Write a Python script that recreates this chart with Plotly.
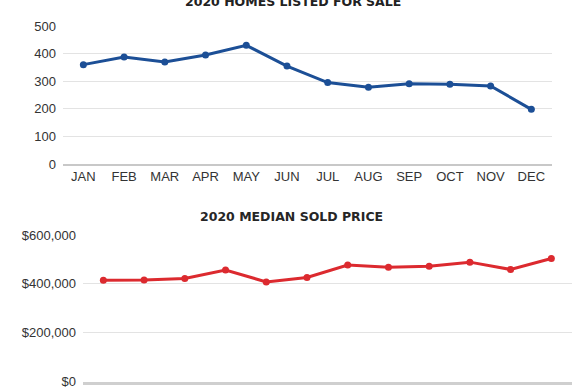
import plotly.graph_objects as go

months = ["JAN", "FEB", "MAR", "APR", "MAY", "JUN", "JUL", "AUG", "SEP", "OCT", "NOV", "DEC"]
homes_listed = [360, 388, 370, 395, 430, 355, 295, 278, 291, 289, 283, 198]
median_price = [415000, 416000, 422000, 457000, 408000, 426000, 477000, 468000, 472000, 489000, 459000, 504000]

title_top = "2020 HOMES LISTED FOR SALE"
title_bottom = "2020 MEDIAN SOLD PRICE"

fig = go.Figure()
fig.add_trace(go.Scatter(x=months, y=homes_listed, mode="lines+markers",
                         line=dict(color="#1c4f96", width=3),
                         marker=dict(size=7, color="#1c4f96"),
                         xaxis="x", yaxis="y", showlegend=False))
fig.add_trace(go.Scatter(x=months, y=median_price, mode="lines+markers",
                         line=dict(color="#dc2a2f", width=3),
                         marker=dict(size=7, color="#dc2a2f"),
                         xaxis="x2", yaxis="y2", showlegend=False))

tickfont = dict(family="Liberation Sans, Arial, sans-serif", size=13, color="#333333")
grid = "#e3e3e3"
titlefont_top = dict(family="DejaVu Sans, sans-serif", size=12.5, color="#222222", weight="bold")
titlefont_bottom = dict(family="DejaVu Sans, sans-serif", size=12.5, color="#262626", weight="bold")

fig.update_layout(
    width=586, height=390,
    margin=dict(l=0, r=0, t=0, b=0, autoexpand=False),
    paper_bgcolor="white", plot_bgcolor="white",
    xaxis=dict(domain=[63/586, 551.7/586], anchor="y", tickfont=tickfont, automargin=False,
               showgrid=False, showline=True, linecolor="#c8c8c8", linewidth=1.5,
               ticks="", range=[-0.5, 11.5]),
    yaxis=dict(domain=[1-164/390, 1-26/390], anchor="x", range=[0, 500], automargin=False,
               tickvals=[0, 100, 200, 300, 400, 500], tickfont=tickfont,
               showgrid=True, gridcolor=grid, gridwidth=1, zeroline=False,
               showline=False, ticks="", ticklabelstandoff=6),
    xaxis2=dict(domain=[83/586, 571.7/586], anchor="y2", tickfont=tickfont, automargin=False,
                showgrid=False, showline=True, linecolor="#cfcfcf", linewidth=2.5,
                ticks="", range=[-0.5, 11.5], ticklabelstandoff=3),
    yaxis2=dict(domain=[1-381.7/390, 1-235/390], anchor="x2", range=[0, 600000], automargin=False,
                tickvals=[0, 200000, 400000, 600000],
                ticktext=["$0", "$200,000", "$400,000", "$600,000"], tickfont=tickfont,
                showgrid=True, gridcolor=grid, gridwidth=1, zeroline=False,
                showline=False, ticks="", ticklabelstandoff=6),
    annotations=[
        dict(text=title_top, x=293/586, y=1-2/390, xref="paper", yref="paper",
             showarrow=False, xanchor="center", yanchor="middle", font=titlefont_top),
        dict(text=title_bottom, x=291/586, y=1-216.3/390, xref="paper", yref="paper",
             showarrow=False, xanchor="center", yanchor="middle", font=titlefont_bottom),
    ],
)

fig.write_html("out.html",
               config={"displayModeBar": False},
               post_script="document.body.style.margin='0';document.body.style.overflow='hidden';")
